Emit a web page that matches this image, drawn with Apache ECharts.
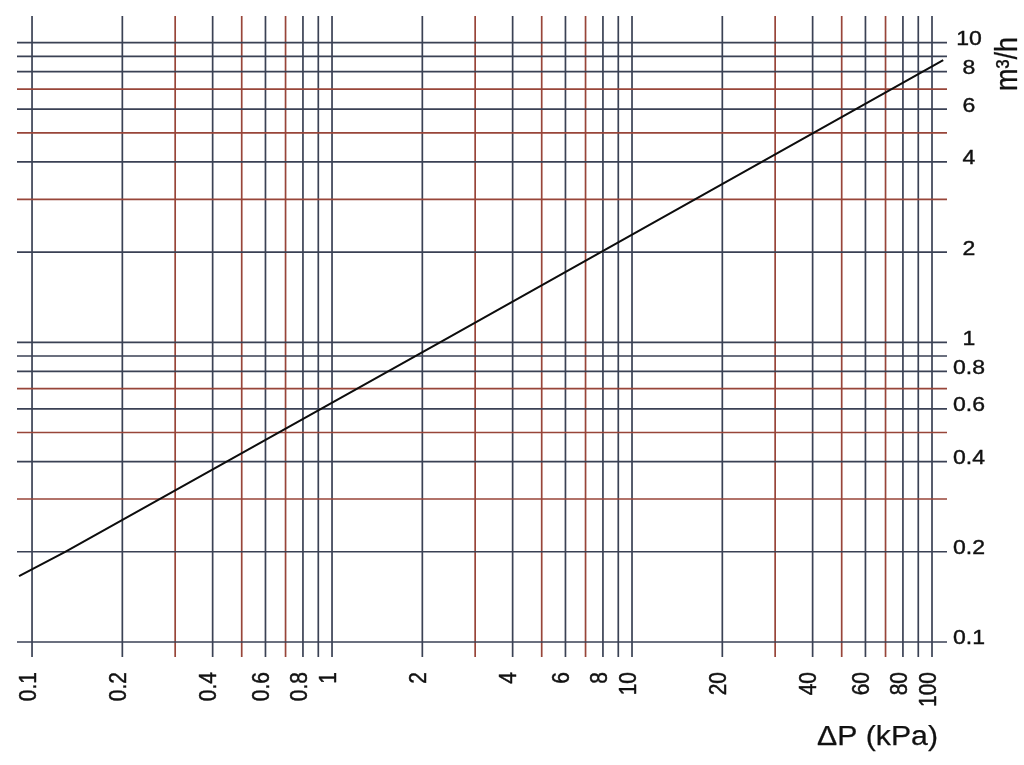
<!DOCTYPE html>
<html><head><meta charset="utf-8">
<script src="https://cdn.jsdelivr.net/npm/echarts@6/dist/echarts.min.js"></script>
<style>html,body{margin:0;padding:0;background:#fff}#c{width:1024px;height:765px}</style>
</head><body><div id="c"></div>
<script>
// Grid line values (ΔP in kPa on x, flow in m³/h on y)
const xGridValues = [0.1,0.2,0.3,0.4,0.5,0.6,0.7,0.8,0.9,1,2,3,4,5,6,7,8,9,10,20,30,40,50,60,70,80,90,100];
const yGridValues = [0.1,0.2,0.3,0.4,0.5,0.6,0.7,0.8,0.9,1,2,3,4,5,6,7,8,9,10];
// Tick labels
const xTickLabels = ['0.1','0.2','0.4','0.6','0.8','1','2','4','6','8','10','20','40','60','80','100'];
const yTickLabels = ['0.1','0.2','0.4','0.6','0.8','1','2','4','6','8','10'];
// Flow curve
const flowDP = [0.0905, 0.129, 2.29, 109];
const flowQ  = [0.166, 0.2, 1, 8.75];
const xTitle = 'ΔP (kPa)';
const yTitle = 'm³/h';

const X_MIN = 0.0891, X_MAX = 112.2, Y_MIN = 0.0891, Y_MAX = 12.27;
const FONT = "'Liberation Sans', Arial, sans-serif";
const BLUE = '#3a4154', RED = '#984539';
function lineColor(v){
  const d = Math.round(v / Math.pow(10, Math.floor(Math.log10(v) + 1e-9)));
  return (d === 3 || d === 5 || d === 7) ? RED : BLUE;
}
const TXT = {fill:'#111', stroke:'#111', lineWidth:0.4};
const TTL = {fill:'#111', stroke:'#111', lineWidth:0.25};

const chart = echarts.init(document.getElementById('c'), null, {renderer:'canvas'});
chart.setOption({
  backgroundColor: '#ffffff',
  animation: false,
  grid: {left: 17, right: 77, top: 16, bottom: 108},
  xAxis: {type:'log', min: X_MIN, max: X_MAX, show: false},
  yAxis: {type:'log', min: Y_MIN, max: Y_MAX, show: false},
  series: [
    {
      type:'custom', z: 1, clip: false, silent: true,
      data: xGridValues.map(v => [v, 1]),
      renderItem: (params, api) => {
        const v = api.value(0);
        const a = api.coord([v, Y_MIN]), b = api.coord([v, Y_MAX]);
        return {type:'line', shape:{x1:a[0], y1:a[1], x2:b[0], y2:b[1]},
          style:{stroke: lineColor(v), lineWidth: 1.7}};
      }
    },
    {
      type:'custom', z: 1, clip: false, silent: true,
      data: yGridValues.map(v => [1, v]),
      renderItem: (params, api) => {
        const v = api.value(1);
        const a = api.coord([X_MIN, v]), b = api.coord([X_MAX, v]);
        return {type:'line', shape:{x1:a[0], y1:a[1], x2:b[0], y2:b[1]},
          style:{stroke: lineColor(v), lineWidth: 1.7}};
      }
    },
    {
      type:'custom', z: 3, clip: false, silent: true,
      data: xTickLabels.map(s => [Number(s), Y_MIN]),
      renderItem: (params, api) => {
        const p = api.coord([api.value(0), Y_MIN]);
        return {type:'text', x: p[0] - 3, y: p[1] + 15, rotation: Math.PI/2, scaleY: 1.18,
          style:Object.assign({text: xTickLabels[params.dataIndex], font: '21px ' + FONT,
            align:'right', verticalAlign:'middle'}, TXT)};
      }
    },
    {
      type:'custom', z: 3, clip: false, silent: true,
      data: yTickLabels.map(s => [X_MAX, Number(s)]),
      renderItem: (params, api) => {
        const p = api.coord([X_MAX, api.value(1)]);
        return {type:'text', x: p[0] + 22, y: p[1] - 3, scaleX: 1.15,
          style:Object.assign({text: yTickLabels[params.dataIndex], font: '20px ' + FONT,
            align:'center', verticalAlign:'middle'}, TXT)};
      }
    },
    {
      type:'line', z: 5, showSymbol: false, silent: true,
      data: flowDP.map((x, i) => [x, flowQ[i]]),
      lineStyle: {color:'#0d0d0d', width: 2}
    }
  ],
  graphic: [
    {type:'text', x: 938, y: 738, scaleX: 1.12,
      style:Object.assign({text: xTitle, font:'27px ' + FONT, align:'right', verticalAlign:'middle'}, TTL)},
    {type:'text', x: 1008, y: 64, rotation: Math.PI/2, scaleY: 1.15,
      style:Object.assign({text: yTitle, font:'27px ' + FONT, align:'center', verticalAlign:'middle'}, TTL)}
  ]
});
</script></body></html>
